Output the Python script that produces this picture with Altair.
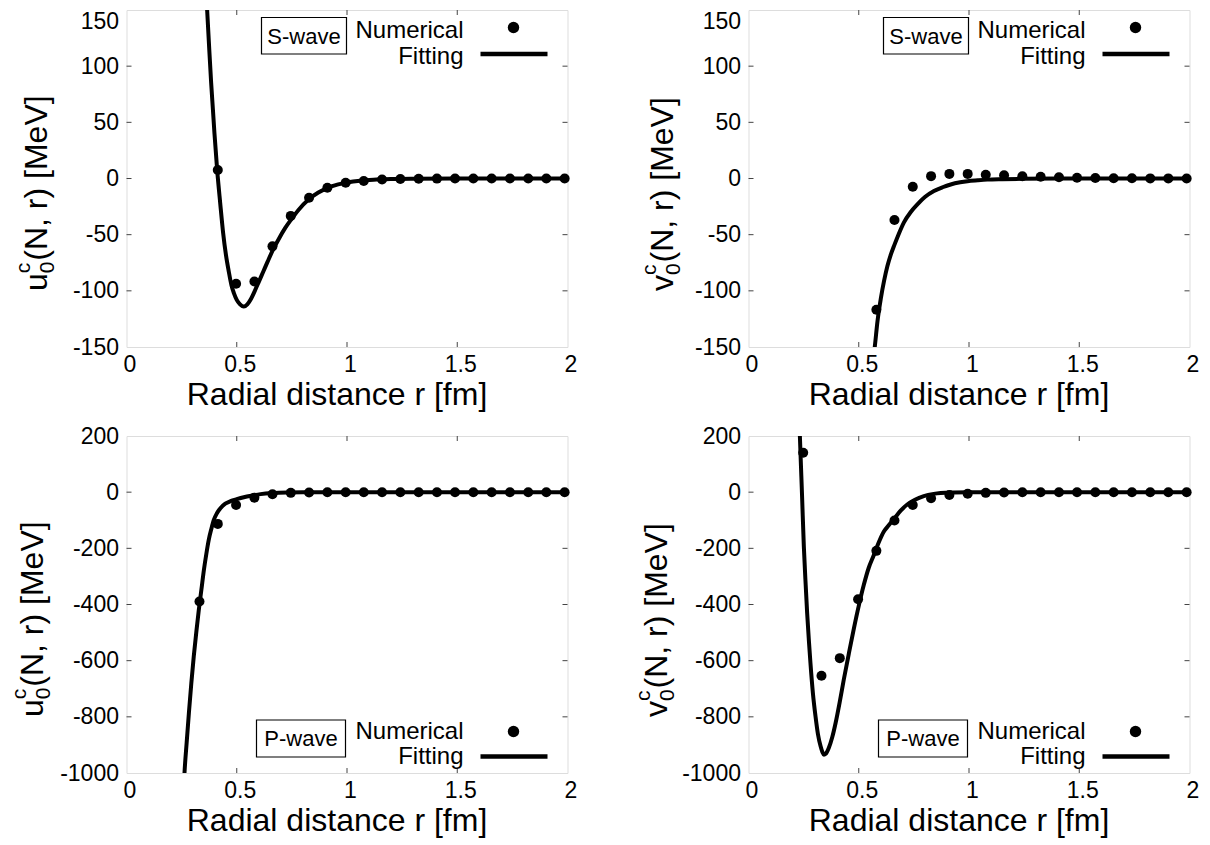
import altair as alt
import pandas as pd

FONT = "Liberation Sans"
FRAME = "#444444"

# ---------------- data ----------------
# Numerical (lattice) points
R_US = [0.414, 0.497, 0.580, 0.662, 0.745, 0.828, 0.911, 0.994, 1.076, 1.159,
        1.242, 1.325, 1.408, 1.490, 1.573, 1.656, 1.739, 1.822, 1.904, 1.987]
V_US = [7.5, -93.7, -91.7, -60.4, -33.3, -17.1, -8.3, -3.8, -2.2, -0.9,
        -0.4, -0.2, -0.1, 0, 0, 0, 0, 0, 0, 0]

R_VS = [0.580, 0.662, 0.745, 0.828, 0.911, 0.994, 1.076, 1.159, 1.242, 1.325,
        1.408, 1.490, 1.573, 1.656, 1.739, 1.822, 1.904, 1.987]
V_VS = [-116.8, -36.9, -7.4, 2.1, 4.1, 4.1, 3.4, 2.8, 2.0, 1.5,
        1.1, 0.7, 0.5, 0.3, 0.2, 0.1, 0.1, 0.0]

R_UP = [0.331, 0.414, 0.497, 0.580, 0.662, 0.745, 0.828, 0.911, 0.994, 1.076,
        1.159, 1.242, 1.325, 1.408, 1.490, 1.573, 1.656, 1.739, 1.822, 1.904, 1.987]
V_UP = [-389.5, -113, -45.5, -19.5, -7.6, -2.5, -1.0, -0.4, -0.2, 0,
        0, 0, 0, 0, 0, 0, 0, 0, 0, 0, 0]

R_VP = [0.248, 0.331, 0.414, 0.497, 0.580, 0.662, 0.745, 0.828, 0.911, 0.994,
        1.076, 1.159, 1.242, 1.325, 1.408, 1.490, 1.573, 1.656, 1.739, 1.822, 1.904, 1.987]
V_VP = [140.5, -654, -591, -381, -209, -101, -45.5, -21.8, -10, -5.5,
        -2.5, -1.2, -0.6, -0.3, -0.1, 0, 0, 0, 0, 0, 0, 0]

# Fitting curves
FR_US = [0.358, 0.366, 0.375, 0.384, 0.392, 0.399, 0.411, 0.425, 0.438, 0.451,
         0.464, 0.476, 0.487, 0.500, 0.515, 0.532, 0.548, 0.565, 0.582, 0.600,
         0.620, 0.640, 0.663, 0.690, 0.720, 0.745, 0.780, 0.827, 0.870, 0.910,
         0.960, 1.000, 1.060, 1.120, 1.200, 1.300, 1.500, 2.000]
FV_US = [180, 149, 116, 85, 61, 40, 8, -22, -48, -68,
         -83, -95, -102, -108, -112, -114, -112, -107, -100, -92,
         -83, -74, -64, -54, -44, -37, -28, -18.5, -12.5, -8.5,
         -5.2, -3.6, -2.0, -1.1, -0.5, -0.2, 0, 0]

FR_VS = [0.566, 0.572, 0.585, 0.600, 0.615, 0.630, 0.645, 0.660, 0.680, 0.705,
         0.735, 0.766, 0.800, 0.841, 0.880, 0.917, 0.960, 0.993, 1.040, 1.083,
         1.150, 1.240, 1.400, 2.000]
FV_VS = [-160, -151, -127, -107, -91, -78, -68, -60, -50, -39,
         -30, -23, -16.5, -11.2, -7.8, -5.3, -3.4, -2.4, -1.6, -1.0,
         -0.6, -0.3, -0.1, 0]

FR_UP = [0.258, 0.263, 0.273, 0.283, 0.294, 0.305, 0.317, 0.328, 0.340, 0.351,
         0.362, 0.373, 0.385, 0.396, 0.410, 0.426, 0.448, 0.472, 0.500, 0.532,
         0.570, 0.608, 0.660, 0.729, 0.800, 1.000, 2.000]
FV_UP = [-1080, -1000, -890, -786, -680, -585, -495, -419, -345, -277,
         -220, -170, -130, -99, -75, -57, -41, -32, -25, -18,
         -12, -7, -3, -0.8, -0.2, 0, 0]

FR_VP = [0.228, 0.233, 0.238, 0.243, 0.251, 0.258, 0.266, 0.274, 0.281, 0.292,
         0.304, 0.315, 0.327, 0.335, 0.342, 0.350, 0.364, 0.380, 0.395, 0.413,
         0.432, 0.455, 0.478, 0.500, 0.523, 0.545, 0.568, 0.590, 0.614, 0.636,
         0.660, 0.690, 0.720, 0.755, 0.795, 0.840, 0.871, 0.930, 1.000, 1.200, 2.000]
FV_VP = [320, 200, 92, -16, -194, -310, -431, -530, -609, -715,
         -799, -862, -905, -925, -935, -932, -911, -872, -822, -750,
         -668, -575, -485, -405, -330, -270, -225, -180, -140, -118,
         -95, -66, -44, -27, -14, -6, -3, -1, -0.3, 0, 0]

X_TICKS = [0, 0.5, 1, 1.5, 2]
X_TICKS_INNER = [0.5, 1, 1.5]
Y_TICKS_S = [-150, -100, -50, 0, 50, 100, 150]
Y_TICKS_P = [-1000, -800, -600, -400, -200, 0, 200]

X_TITLE = "Radial distance r [fm]"
Y_TITLE_REST = "(N, r) [MeV]"
LEG_NUM = "Numerical"
LEG_FIT = "Fitting"

W, H = 441, 337
ONE = pd.DataFrame({"k": [0]})


def txt(s, x, y, size, align="left", angle=0):
    return alt.Chart(ONE).mark_text(
        text=s, fontSize=size, align=align, baseline="alphabetic",
        angle=angle, color="black", font=FONT
    ).encode(x=alt.value(x), y=alt.value(y))


def panel(r_pts, v_pts, r_fit, v_fit, ydom, yvals, letter, wave, top_legend,
          title_base, extra_left=False):
    xscale = alt.Scale(domain=[0, 2], nice=False, zero=False)
    yscale = alt.Scale(domain=ydom, nice=False, zero=False)
    xaxis = alt.Axis(values=X_TICKS, labelExpr="'' + datum.value", title=X_TITLE,
                     grid=False, domain=False, ticks=False, tickSize=0, labelPadding=6,
                     labelFontSize=23, labelFont=FONT, labelColor="black",
                     labelFlush=False, labelOffset=3,
                     titleFontSize=32, titleFont=FONT, titleFontWeight="normal",
                     titleColor="black", titleBaseline="alphabetic",
                     titleY=57, titleX=210)
    if top_legend:
        lb = {"condition": {"test": "datum.value == %d" % ydom[1], "value": "top"},
              "value": "middle"}
    else:
        lb = "middle"
    yaxis = alt.Axis(values=yvals, labelExpr="'' + datum.value", title=None, grid=False,
                     domain=False, ticks=False, tickSize=0, labelPadding=8,
                     labelFontSize=23, labelFont=FONT, labelColor="black",
                     labelBaseline=lb)
    X = alt.X("r:Q", scale=xscale, axis=xaxis)
    Y = alt.Y("v:Q", scale=yscale, axis=yaxis)

    pts = alt.Chart(pd.DataFrame({"r": r_pts, "v": v_pts})).mark_circle(
        size=100, color="black", opacity=1).encode(x=X, y=Y)
    fit = alt.Chart(pd.DataFrame({"r": r_fit, "v": v_fit})).mark_line(
        color="black", strokeWidth=4, interpolate="monotone", clip=True
    ).encode(x=X, y=Y)

    xt = alt.Chart(pd.DataFrame({"r": X_TICKS_INNER})).mark_rule(color=FRAME, strokeWidth=1)
    xt_b = xt.encode(x=X, y=alt.value(H), y2=alt.value(H - 5))
    xt_t = xt.encode(x=X, y=alt.value(0), y2=alt.value(5))
    yt = alt.Chart(pd.DataFrame({"v": yvals[1:-1]})).mark_rule(color=FRAME, strokeWidth=1)
    yt_l = yt.encode(y=Y, x=alt.value(0), x2=alt.value(5))
    yt_r = yt.encode(y=Y, x=alt.value(W - 5), x2=alt.value(W))

    if top_legend:
        ny, fy, dy, ly = 27.5, 53.5, 17.5, 44
        bx1, bx2, by1, by2, tby = 135, 220, 7.5, 44, 34
    else:
        ny, fy, dy, ly = 303, 328, 295.5, 320.5
        bx1, bx2, by1, by2, tby = 130, 219, 284, 321, 310

    leg = [
        txt(LEG_NUM, 337, ny, 24, align="right"),
        txt(LEG_FIT, 337, fy, 24, align="right"),
        alt.Chart(ONE).mark_circle(size=130, color="black", opacity=1).encode(
            x=alt.value(387), y=alt.value(dy)),
        alt.Chart(ONE).mark_rule(color="black", strokeWidth=4.5).encode(
            x=alt.value(354), x2=alt.value(421), y=alt.value(ly)),
        alt.Chart(ONE).mark_rect(fill="white", stroke="black", strokeWidth=1.2).encode(
            x=alt.value(bx1), x2=alt.value(bx2), y=alt.value(by1), y2=alt.value(by2)),
        txt(wave, (bx1 + bx2) / 2, tby, 22, align="center"),
    ]

    # y-axis title with stacked subscript / superscript
    y0 = 281
    lw = 17.8 if letter == "u" else 16
    ytitle = [
        txt(letter, title_base, y0, 32, angle=270),
        txt("0", title_base + 7, y0 - lw, 21, angle=270),
        txt("c", title_base - 17, y0 - lw, 21, angle=270),
        txt(Y_TITLE_REST, title_base, y0 - lw - 12.5, 32, angle=270),
    ]
    layers = [xt_b, xt_t, yt_l, yt_r, fit, pts] + leg + ytitle
    if extra_left:
        layers.append(alt.Chart(ONE).mark_rule(opacity=0, strokeWidth=1).encode(
            x=alt.value(-118), y=alt.value(100), y2=alt.value(110)))
    return alt.layer(*layers).properties(width=W, height=H)


tl = panel(R_US, V_US, FR_US, FV_US, [-150, 150], Y_TICKS_S, "u", "S-wave", True, -80)
tr = panel(R_VS, V_VS, FR_VS, FV_VS, [-150, 150], Y_TICKS_S, "v", "S-wave", True, -76)
bl = panel(R_UP, V_UP, FR_UP, FV_UP, [-1000, 200], Y_TICKS_P, "u", "P-wave", False, -84,
           extra_left=True)
br = panel(R_VP, V_VP, FR_VP, FV_VP, [-1000, 200], Y_TICKS_P, "v", "P-wave", False, -82)

chart = alt.concat(tl, tr, bl, br, columns=2,
                   spacing={"row": 89, "column": 181}, bounds="flush").properties(
    padding={"left": -0.5, "top": 1, "right": 2, "bottom": 1}
).configure_view(stroke=FRAME, strokeWidth=1.2).configure(font=FONT)

chart.save("out.html", embed_options={"renderer": "svg", "actions": False})
